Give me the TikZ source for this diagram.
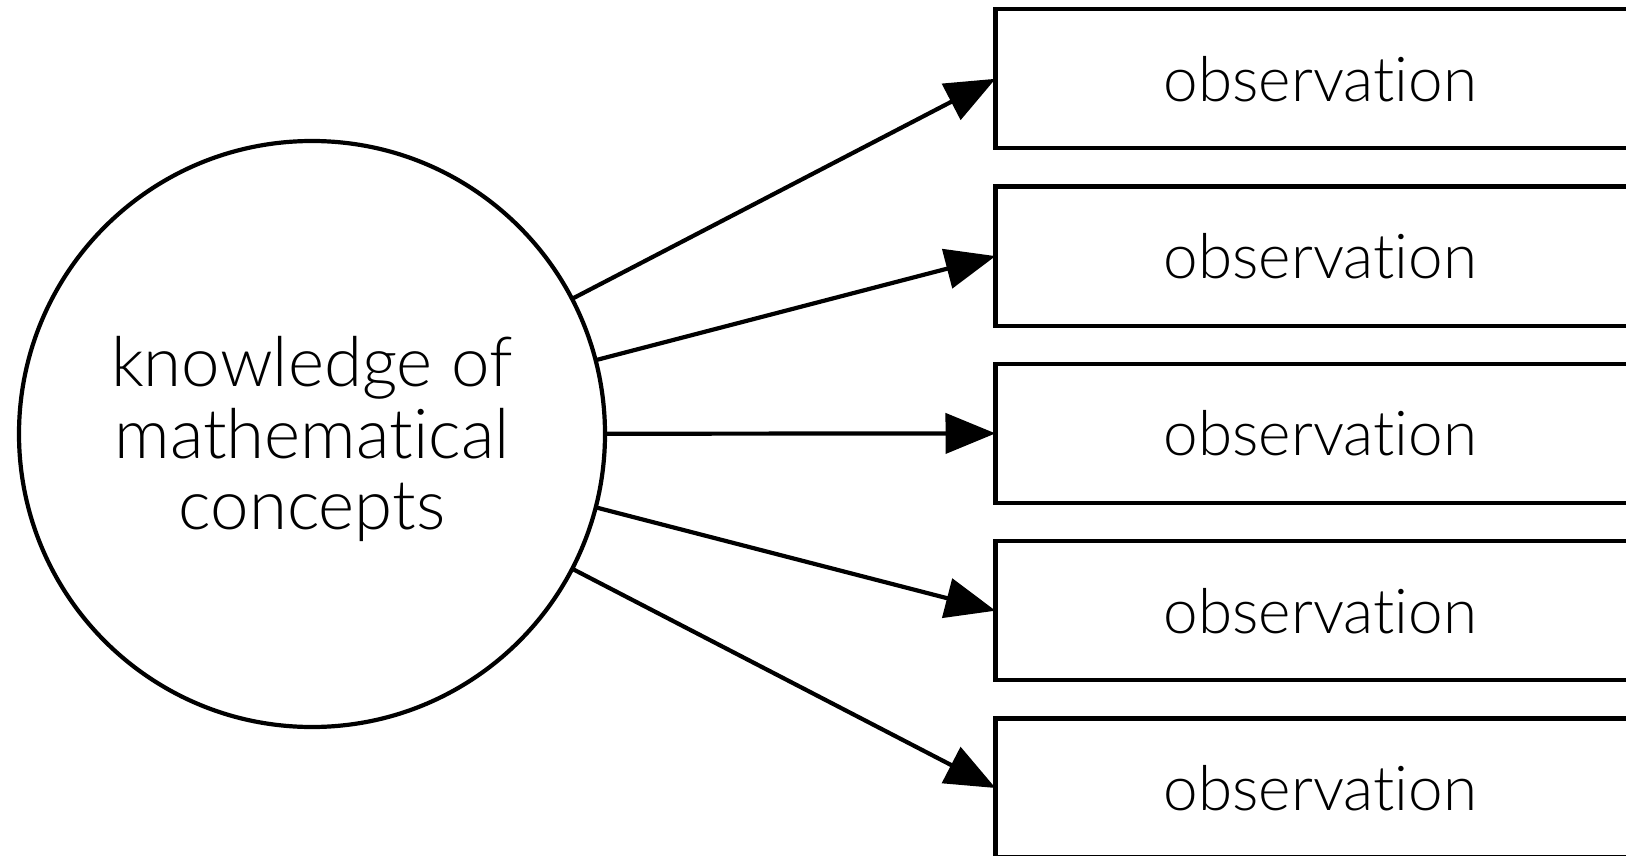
\documentclass[tikz,border=0pt]{standalone}
\usepackage{fontspec}
\setmainfont[Ligatures=NoCommon]{Lato Light}
\usetikzlibrary{arrows.meta}
\begin{document}
\begin{tikzpicture}[
  every node/.style={inner sep=0pt, outer sep=0pt},
  obsbox/.style={draw, line width=4.2pt, minimum width=650pt, minimum height=139pt, font=\fontsize{62}{72}\selectfont},
  hub/.style={draw, circle, line width=4.2pt, minimum size=586pt, align=center, font=\fontsize{69}{71.5}\selectfont},
  conn/.style={line width=4.2pt, -{Triangle[length=50pt,width=40pt]}}
]
\useasboundingbox (0,0) rectangle (1626pt,-856pt);
\clip (0,0) rectangle (1626pt,-856pt);
\node[hub] (c) at (312pt,-434pt) {\raisebox{-10pt}[\height][\depth]{\begin{tabular}{@{}c@{}}knowledge of\\mathematical\\concepts\end{tabular}}};
\node[obsbox, anchor=west] (b1) at (995.5pt,-78.8pt) {observation};
\node[obsbox, anchor=west] (b2) at (995.5pt,-256.1pt) {observation};
\node[obsbox, anchor=west] (b3) at (995.5pt,-433.4pt) {observation};
\node[obsbox, anchor=west] (b4) at (995.5pt,-610.7pt) {observation};
\node[obsbox, anchor=west] (b5) at (995.5pt,-788.0pt) {observation};
\foreach \i in {1,...,5} {\draw[conn] (c) -- (b\i.west);}
\end{tikzpicture}
\end{document}
